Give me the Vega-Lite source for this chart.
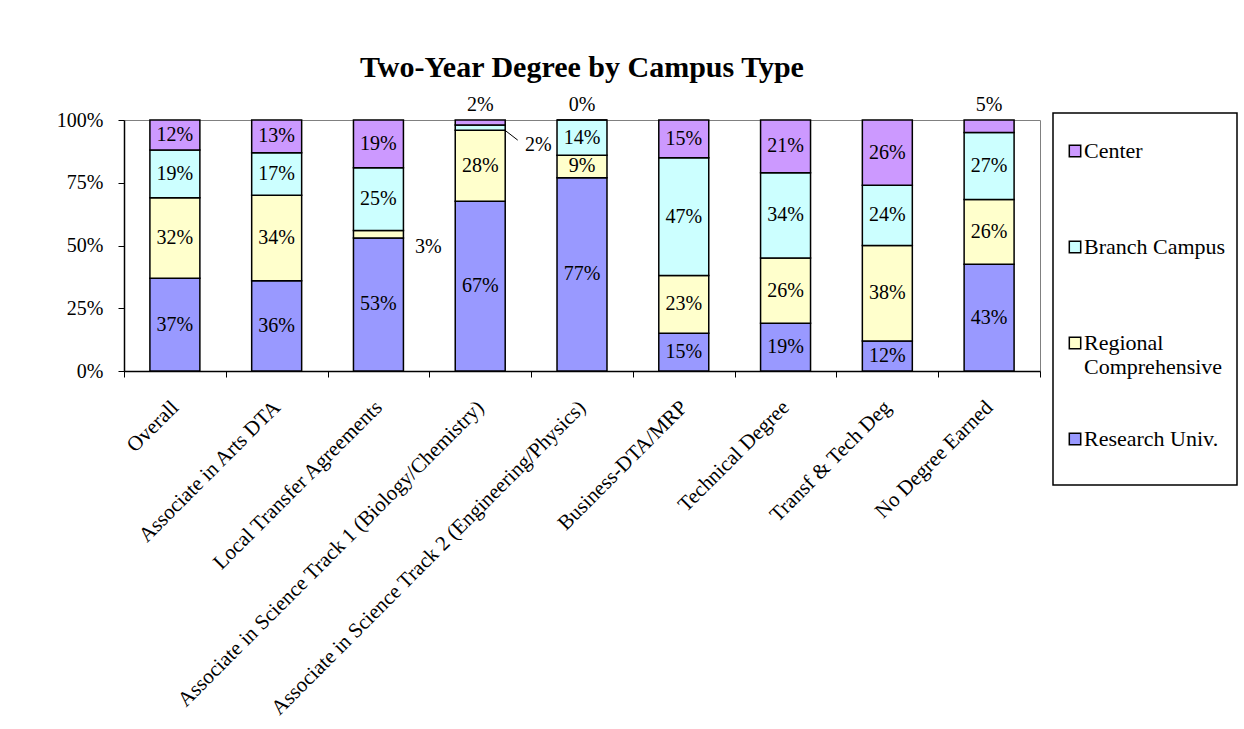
{
  "$schema": "https://vega.github.io/schema/vega-lite/v6.json",
  "width": 916,
  "height": 251,
  "autosize": {"type": "none"},
  "padding": {"left": 124, "top": 120, "right": 204, "bottom": 358},
  "background": "white",
  "title": {
    "text": "Two-Year Degree by Campus Type",
    "font": "Liberation Serif",
    "fontSize": 30,
    "fontWeight": "bold",
    "color": "black",
    "anchor": "middle",
    "frame": "group",
    "baseline": "alphabetic",
    "offset": -12,
    "dx": 0
  },
  "data": {
    "values": [
      {"category": "Overall", "series": "Research Univ.", "value": 37},
      {"category": "Overall", "series": "Regional Comprehensive", "value": 32},
      {"category": "Overall", "series": "Branch Campus", "value": 19},
      {"category": "Overall", "series": "Center", "value": 12},
      {"category": "Associate in Arts DTA", "series": "Research Univ.", "value": 36},
      {"category": "Associate in Arts DTA", "series": "Regional Comprehensive", "value": 34},
      {"category": "Associate in Arts DTA", "series": "Branch Campus", "value": 17},
      {"category": "Associate in Arts DTA", "series": "Center", "value": 13},
      {"category": "Local Transfer Agreements", "series": "Research Univ.", "value": 53},
      {"category": "Local Transfer Agreements", "series": "Regional Comprehensive", "value": 3},
      {"category": "Local Transfer Agreements", "series": "Branch Campus", "value": 25},
      {"category": "Local Transfer Agreements", "series": "Center", "value": 19},
      {"category": "Associate in Science Track 1 (Biology/Chemistry)", "series": "Research Univ.", "value": 67},
      {"category": "Associate in Science Track 1 (Biology/Chemistry)", "series": "Regional Comprehensive", "value": 28},
      {"category": "Associate in Science Track 1 (Biology/Chemistry)", "series": "Branch Campus", "value": 2},
      {"category": "Associate in Science Track 1 (Biology/Chemistry)", "series": "Center", "value": 2},
      {"category": "Associate in Science Track 2 (Engineering/Physics)", "series": "Research Univ.", "value": 77},
      {"category": "Associate in Science Track 2 (Engineering/Physics)", "series": "Regional Comprehensive", "value": 9},
      {"category": "Associate in Science Track 2 (Engineering/Physics)", "series": "Branch Campus", "value": 14},
      {"category": "Associate in Science Track 2 (Engineering/Physics)", "series": "Center", "value": 0},
      {"category": "Business-DTA/MRP", "series": "Research Univ.", "value": 15},
      {"category": "Business-DTA/MRP", "series": "Regional Comprehensive", "value": 23},
      {"category": "Business-DTA/MRP", "series": "Branch Campus", "value": 47},
      {"category": "Business-DTA/MRP", "series": "Center", "value": 15},
      {"category": "Technical Degree", "series": "Research Univ.", "value": 19},
      {"category": "Technical Degree", "series": "Regional Comprehensive", "value": 26},
      {"category": "Technical Degree", "series": "Branch Campus", "value": 34},
      {"category": "Technical Degree", "series": "Center", "value": 21},
      {"category": "Transf & Tech Deg", "series": "Research Univ.", "value": 12},
      {"category": "Transf & Tech Deg", "series": "Regional Comprehensive", "value": 38},
      {"category": "Transf & Tech Deg", "series": "Branch Campus", "value": 24},
      {"category": "Transf & Tech Deg", "series": "Center", "value": 26},
      {"category": "No Degree Earned", "series": "Research Univ.", "value": 43},
      {"category": "No Degree Earned", "series": "Regional Comprehensive", "value": 26},
      {"category": "No Degree Earned", "series": "Branch Campus", "value": 27},
      {"category": "No Degree Earned", "series": "Center", "value": 5}
    ]
  },
  "transform": [
    {"calculate": "indexof(['Research Univ.','Regional Comprehensive','Branch Campus','Center'], datum.series)", "as": "rank"},
    {"stack": "value", "groupby": ["category"], "sort": [{"field": "rank", "order": "ascending"}], "offset": "normalize", "as": ["y0", "y1"]},
    {"calculate": "(datum.y0 + datum.y1) / 2", "as": "ymid"},
    {"calculate": "datum.value + '%'", "as": "label"}
  ],
  "encoding": {
    "x": {
      "field": "category",
      "type": "nominal",
      "sort": null,
      "scale": {"paddingInner": 0, "paddingOuter": 0},
      "axis": {
        "title": null,
        "labelAngle": -45,
        "labelAlign": "right",
        "labelBaseline": "middle",
        "labelFont": "Liberation Serif",
        "labelFontSize": 21,
        "labelColor": "black",
        "labelPadding": 27,
        "labelOffset": 0,
        "labelLimit": 0,
        "labelOverlap": false,
        "tickBand": "extent",
        "tickSize": 6,
        "tickColor": "black",
        "domainColor": "black",
        "domainWidth": 1.5,
        "grid": false
      }
    }
  },
  "layer": [
    {
      "mark": {"type": "bar", "stroke": "black", "strokeWidth": 1.5, "width": {"band": 0.491}},
      "encoding": {
        "y": {
          "field": "y0",
          "type": "quantitative",
          "scale": {"domain": [0, 1], "nice": false},
          "axis": {
            "title": null,
            "values": [0, 0.25, 0.5, 0.75, 1],
            "format": ".0%",
            "labelFont": "Liberation Serif",
            "labelFontSize": 20,
            "labelColor": "black",
            "labelPadding": 15,
            "tickSize": 6,
            "tickColor": "black",
            "domainColor": "black",
            "domainWidth": 1.5,
            "grid": false
          }
        },
        "y2": {"field": "y1"},
        "color": {
          "field": "series",
          "type": "nominal",
          "scale": {
            "domain": ["Center", "Branch Campus", "Regional Comprehensive", "Research Univ."],
            "range": ["#CC99FF", "#CCFFFF", "#FFFFCC", "#9999FF"]
          },
          "legend": {
            "title": " ",
            "titleFontSize": 12,
            "titlePadding": 4,
            "orient": "none",
            "legendX": 929,
            "legendY": -7,
            "symbolType": "square",
            "symbolSize": 130,
            "symbolStrokeColor": "black",
            "symbolStrokeWidth": 1.5,
            "symbolOpacity": 1,
            "labelFont": "Liberation Serif",
            "labelFontSize": 22,
            "labelColor": "black",
            "labelOffset": -2,
            "labelLimit": 0,
            "labelBaseline": "middle",
            "labelExpr": "datum.label == 'Regional Comprehensive' ? ['Regional', 'Comprehensive'] : [datum.label, '']",
            "strokeColor": "black",
            "padding": 11,
            "rowPadding": 50
          }
        }
      }
    },
    {
      "transform": [{"filter": "!(datum.series == 'Center' && datum.value <= 5) && !(datum.series == 'Branch Campus' && datum.value <= 2) && !(datum.series == 'Regional Comprehensive' && datum.value <= 3)"}],
      "mark": {"type": "text", "font": "Liberation Serif", "fontSize": 20, "color": "black", "baseline": "middle", "align": "center"},
      "encoding": {
        "y": {"field": "ymid", "type": "quantitative"},
        "text": {"field": "label"}
      }
    },
    {
      "transform": [{"filter": "datum.series == 'Center' && datum.value <= 5"}],
      "mark": {"type": "text", "font": "Liberation Serif", "fontSize": 20, "color": "black", "baseline": "middle", "align": "center", "dy": -15},
      "encoding": {
        "y": {"field": "y1", "type": "quantitative"},
        "text": {"field": "label"}
      }
    },
    {
      "transform": [{"filter": "datum.series == 'Branch Campus' && datum.value <= 2"}],
      "mark": {"type": "text", "font": "Liberation Serif", "fontSize": 20, "color": "black", "baseline": "middle", "align": "center", "dx": 58, "dy": 17.5},
      "encoding": {
        "y": {"field": "ymid", "type": "quantitative"},
        "text": {"field": "label"}
      }
    },
    {
      "transform": [{"filter": "datum.series == 'Branch Campus' && datum.value <= 2"}],
      "mark": {"type": "point", "shape": "M-1,-0.77L1,0.77", "filled": false, "stroke": "black", "strokeWidth": 1, "size": 169, "opacity": 1, "xOffset": 31, "yOffset": 7.5},
      "encoding": {
        "y": {"field": "ymid", "type": "quantitative"}
      }
    },
    {
      "transform": [{"filter": "datum.series == 'Regional Comprehensive' && datum.value <= 3"}],
      "mark": {"type": "text", "font": "Liberation Serif", "fontSize": 20, "color": "black", "baseline": "middle", "align": "center", "dx": 50, "dy": 13},
      "encoding": {
        "y": {"field": "ymid", "type": "quantitative"},
        "text": {"field": "label"}
      }
    }
  ],
  "config": {
    "view": {"stroke": "#808080", "strokeWidth": 1},
    "axis": {"labelFont": "Liberation Serif"},
    "legend": {"strokeWidth": 1.5}
  }
}
